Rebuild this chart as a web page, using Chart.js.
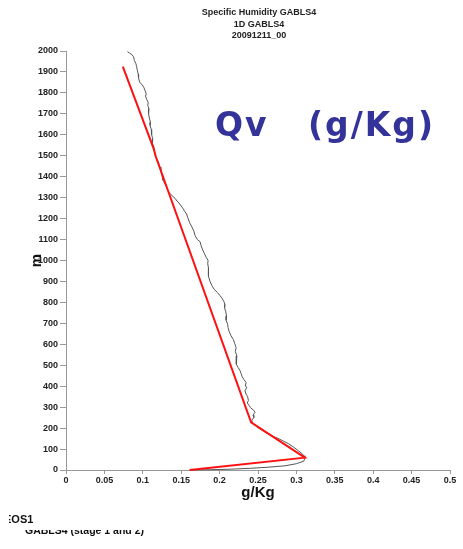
<!DOCTYPE html>
<html>
<head>
<meta charset="utf-8">
<script src="https://cdn.jsdelivr.net/npm/chart.js@4.4.1/dist/chart.umd.min.js"></script>
<style>
  body { margin: 0; background: #fff; }
  #wrap { position: relative; width: 463px; height: 549px; overflow: hidden; font-family: "Liberation Sans", Arial, sans-serif; }
  #myChart { position: absolute; left: 0; top: 0; }
  .title { position: absolute; left: 66px; width: 386px; text-align: center; font-weight: bold; font-size: 9px; color: #222; line-height: 11.5px; top: 7px; }
  .qv { position: absolute; top: 105px; font-family: "DejaVu Sans", sans-serif; font-weight: bold; font-size: 33px; color: #33339a; line-height: 40px; letter-spacing: 2px; }
  .foot1 { position: absolute; left: 9px; top: 513px; width: 40px; height: 16px; overflow: hidden; }
  .foot1 span { position: absolute; left: -5px; top: 0; font-weight: bold; font-size: 11px; color: #111; }
  .foot2 { position: absolute; left: 25px; top: 530px; height: 7px; overflow: hidden; width: 200px; }
  .foot2 span { position: absolute; left: 0; top: -6px; font-weight: bold; font-size: 10.5px; color: #111; white-space: nowrap; }
</style>
</head>
<body>
<div id="wrap">
  <canvas id="myChart" width="463" height="549"></canvas>
  <div class="title">Specific Humidity GABLS4<br>1D GABLS4<br>20091211_00</div>
  <div class="qv" style="left:215px">Qv</div>
  <div class="qv" style="left:308px">(g/Kg)</div>
  <div class="foot1"><span>EOS1</span></div>
  <div class="foot2"><span>GABLS4 (stage 1 and 2)</span></div>
</div>
<script>
const ctx = document.getElementById('myChart');

// x ticks (g/Kg) and y ticks (m)
const xTicks = [0, 0.05, 0.1, 0.15, 0.2, 0.25, 0.3, 0.35, 0.4, 0.45, 0.5];
const yTicks = [0, 100, 200, 300, 400, 500, 600, 700, 800, 900, 1000, 1100, 1200, 1300, 1400, 1500, 1600, 1700, 1800, 1900, 2000];

// red profile (simple fit)
const redQv = [0.074, 0.114, 0.117, 0.241, 0.311, 0.161];
const redZ  = [1925, 1535, 1495, 228, 59, 0];

// grey profile (model) top to bottom
const greyQv = [0.080, 0.083, 0.086, 0.088, 0.089, 0.091, 0.092, 0.093, 0.094, 0.0945, 0.096, 0.099, 0.1015, 0.103, 0.1045, 0.1035, 0.105, 0.107, 0.1065, 0.108, 0.107, 0.108, 0.1085, 0.110, 0.1095, 0.111, 0.1115, 0.113, 0.1125, 0.1145, 0.1155, 0.1165, 0.119, 0.121, 0.1225, 0.1235, 0.125, 0.126, 0.128, 0.1305, 0.132, 0.134, 0.1365, 0.1395, 0.142, 0.1445, 0.147, 0.149, 0.152, 0.1545, 0.157, 0.1585, 0.161, 0.164, 0.1665, 0.168, 0.171, 0.1745, 0.176, 0.178, 0.180, 0.1825, 0.185, 0.1845, 0.1855, 0.185, 0.186, 0.1875, 0.190, 0.193, 0.197, 0.200, 0.203, 0.2055, 0.207, 0.2065, 0.208, 0.209, 0.2085, 0.2105, 0.211, 0.2125, 0.215, 0.218, 0.2195, 0.2215, 0.2205, 0.2225, 0.2215, 0.222, 0.224, 0.2265, 0.228, 0.2295, 0.2315, 0.2345, 0.2335, 0.2355, 0.233, 0.2345, 0.2365, 0.2375, 0.236, 0.2385, 0.240, 0.2445, 0.246, 0.2435, 0.2445, 0.242, 0.2425, 0.246, 0.250, 0.256, 0.262, 0.268, 0.276, 0.283, 0.290, 0.296, 0.3015, 0.306, 0.310, 0.311, 0.3095, 0.300, 0.285, 0.262, 0.240, 0.215, 0.190, 0.161];
const greyZ  = [1997, 1990, 1982, 1972, 1955, 1940, 1925, 1905, 1890, 1870, 1850, 1840, 1825, 1810, 1795, 1785, 1770, 1755, 1740, 1725, 1712, 1700, 1680, 1660, 1645, 1625, 1600, 1580, 1560, 1540, 1515, 1495, 1480, 1460, 1445, 1425, 1405, 1385, 1372, 1355, 1340, 1325, 1315, 1305, 1297, 1284, 1275, 1265, 1250, 1235, 1222, 1205, 1180, 1160, 1140, 1120, 1100, 1090, 1070, 1050, 1035, 1015, 1000, 985, 965, 945, 925, 900, 880, 862, 848, 835, 820, 805, 790, 775, 755, 735, 715, 695, 680, 660, 640, 622, 605, 585, 565, 545, 525, 505, 490, 475, 460, 445, 432, 418, 400, 395, 378, 362, 350, 332, 320, 308, 298, 285, 275, 262, 250, 238, 228, 215, 202, 188, 175, 163, 151, 138, 125, 110, 95, 82, 68, 56, 42, 30, 20, 13, 8, 4, 1.5, 0];

function toPoints(xs, ys) {
    return xs.map((x, i) => ({ x: x, y: ys[i] }));
}

const tickFont = { family: "Liberation Sans", size: 9, weight: "bold" };

new Chart(ctx, {
    type: 'scatter',
    data: {
        datasets: [
            {
                label: "fit",
                data: toPoints(redQv, redZ),
                showLine: true,
                borderColor: "#ff1010",
                borderWidth: 2,
                pointRadius: 0,
                tension: 0,
                clip: false
            },
            {
                label: "profile",
                data: toPoints(greyQv, greyZ),
                showLine: true,
                borderColor: "#555555",
                borderWidth: 1,
                pointRadius: 0,
                tension: 0,
                clip: false
            }
        ]
    },
    options: {
        responsive: false,
        animation: false,
        layout: { padding: { top: 51, right: 13, left: 0, bottom: 47 } },
        plugins: { legend: { display: false }, tooltip: { enabled: false } },
        scales: {
            x: {
                type: 'linear',
                min: 0,
                max: 0.5,
                afterBuildTicks: (s) => { s.ticks = xTicks.map(v => ({ value: v })); },
                afterFit: (s) => { s.height = 32; },
                ticks: { color: "#222", font: tickFont, padding: 1, maxRotation: 0, callback: (v) => String(v) },
                grid: { drawOnChartArea: false, drawTicks: true, tickLength: 4, color: "#999" },
                border: { color: "#999", width: 1 },
                title: { display: true, text: "g/Kg", color: "#111", font: { family: "Liberation Sans", size: 15, weight: "bold" }, padding: 0 }
            },
            y: {
                type: 'linear',
                min: 0,
                max: 2000,
                afterBuildTicks: (s) => { s.ticks = yTicks.map(v => ({ value: v })); },
                afterFit: (s) => { s.width = 66; },
                ticks: { color: "#222", font: tickFont, padding: 2, callback: (v) => String(v) },
                grid: { drawOnChartArea: false, drawTicks: true, tickLength: 6, color: "#999" },
                border: { color: "#999", width: 1 },
                title: { display: true, text: "m", color: "#111", font: { family: "Liberation Sans", size: 15, weight: "bold" }, padding: { top: 28, bottom: 0 } }
            }
        }
    }
});
</script>
</body>
</html>
